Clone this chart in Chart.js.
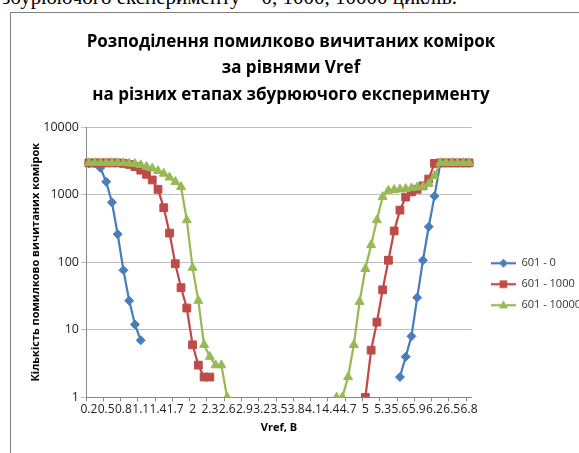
<!DOCTYPE html>
<html>
<head>
<meta charset="utf-8">
<script src="https://cdn.jsdelivr.net/npm/chart.js@4.4.0/dist/chart.umd.min.js"></script>
<style>
  html, body { margin: 0; padding: 0; background: #fff; overflow: hidden; width: 579px; height: 453px; }
  .above { position: absolute; left: 2px; top: -13px; font: 21px 'Liberation Serif', serif; line-height: 21px; white-space: nowrap; color: #000; }
  .frame { position: absolute; left: 10px; top: 12px; width: 620px; height: 470px; border-left: 1px solid #808080; border-top: 1px solid #808080; }
  .box { position: absolute; left: -9px; top: 13px; width: 600px; height: 440px; }
</style>
</head>
<body>
<div class="above">збурюючого експерименту – 0, 1000, 10000 циклів.</div>
<div class="frame"></div>
<div class="box"><canvas id="chart1"></canvas></div>
<script>
// Vref, B (categories)
const vref = [0.2, 0.3, 0.4, 0.5, 0.6, 0.7, 0.8, 0.9, 1, 1.1,
  1.2, 1.3, 1.4, 1.5, 1.6, 1.7, 1.8, 1.9, 2, 2.1,
  2.2, 2.3, 2.4, 2.5, 2.6, 2.7, 2.8, 2.9, 3, 3.1,
  3.2, 3.3, 3.4, 3.5, 3.6, 3.7, 3.8, 3.9, 4, 4.1,
  4.2, 4.3, 4.4, 4.5, 4.6, 4.7, 4.8, 4.9, 5, 5.1,
  5.2, 5.3, 5.4, 5.5, 5.6, 5.7, 5.8, 5.9, 6, 6.1,
  6.2, 6.3, 6.4, 6.5, 6.6, 6.7, 6.8];

const seriesNames = ['601 - 0', '601 - 1000', '601 - 10000'];

const cycles0 = [2900, 2900, 2500, 1550, 770, 260, 76, 27, 12, 7,
  null, null, null, null, null, null, null, null, null, null,
  null, null, null, null, null, null, null, null, null, null,
  null, null, null, null, null, null, null, null, null, null,
  null, null, null, null, null, null, null, null, null, null,
  null, null, null, null, 2, 4, 8, 30, 107, 335,
  950, 2900, 2950, 2950, 2950, 2950, 2950];

const cycles1000 = [2950, 2950, 2950, 2950, 2950, 2950, 2900, 2800, 2600, 2300,
  2000, 1650, 1200, 640, 270, 95, 42, 21, 6, 3,
  2, 2, null, null, null, null, null, null, null, null,
  null, null, null, null, null, null, null, null, null, null,
  null, null, null, null, null, null, null, null, 1, 5,
  13, 39, 107, 290, 590, 920, 1100, 1200, 1350, 1700,
  2900, 2950, 2950, 2950, 2950, 2950, 2950];

const cycles10000 = [2950, 2950, 2950, 2950, 2950, 2950, 2950, 2900, 2850, 2750,
  2600, 2450, 2250, 2050, 1800, 1550, 1300, 420, 83, 27,
  6, 4, 3, 3, 1, null, null, null, null, null,
  null, null, null, null, null, null, null, null, null, null,
  null, null, null, 1, 1, 2, 6, 26, 80, 180,
  420, 930, 1150, 1180, 1200, 1220, 1250, 1280, 1320, 1450,
  1900, 2950, 2950, 2950, 2950, 2950, 2950];

const yTicks = [1, 10, 100, 1000, 10000];

const titleLines = ['Розподілення помилково вичитаних комірок', 'за рівнями Vref', 'на різних етапах збурюючого експерименту'];
const yTitle = 'Кількість помилково вичитаних комірок';
const xTitle = 'Vref, B';

const colors = ['#4A7EBB', '#BE4B48', '#98B954'];
const styles = ['rectRot', 'rect', 'triangle'];

// legend sample: short line with the marker on it
function legendIcon(color, style) {
  const c = document.createElement('canvas');
  c.width = 34; c.height = 12;
  const g = c.getContext('2d');
  g.strokeStyle = color; g.fillStyle = color; g.lineWidth = 2.25;
  g.beginPath(); g.moveTo(9, 6); g.lineTo(34, 6); g.stroke();
  const cx = 21.5, cy = 6, r = 4.5;
  g.beginPath();
  if (style === 'rectRot') {
    g.moveTo(cx, cy - r); g.lineTo(cx + r, cy); g.lineTo(cx, cy + r); g.lineTo(cx - r, cy);
  } else if (style === 'rect') {
    g.rect(cx - 3.8, cy - 3.8, 7.6, 7.6);
  } else {
    g.moveTo(cx, cy - r - 0.5); g.lineTo(cx + r, cy + r * 0.7); g.lineTo(cx - r, cy + r * 0.7);
  }
  g.closePath(); g.fill();
  return c;
}
const icons = colors.map((c, i) => legendIcon(c, styles[i]));

Chart.defaults.font.family = "'Open Sans', sans-serif";

const data = {
  labels: vref,
  datasets: [cycles0, cycles1000, cycles10000].map((vals, i) => ({
    label: seriesNames[i],
    data: vals,
    borderColor: colors[i],
    backgroundColor: colors[i],
    borderWidth: 2.25,
    pointStyle: styles[i],
    pointRadius: [4.5, 5.5, 5.2][i],
    pointBorderWidth: 1,
    order: 2 - i, // green on top like in Excel
    tension: 0
  }))
};

const config = {
  type: 'line',
  data: data,
  options: {
    responsive: true,
    maintainAspectRatio: false,
    animation: false,
    layout: { padding: { left: 0, right: 0, top: 0, bottom: 15 } },
    plugins: {
      tooltip: { enabled: false },
      title: {
        display: true,
        text: titleLines,
        color: '#000',
        font: { size: 17, weight: 'bold', lineHeight: 1.56 },
        padding: { top: 15.5, bottom: 19 }
      },
      legend: {
        position: 'right',
        fullSize: false,
        // empty legend title just pushes the items a bit lower, as in Excel
        title: { display: true, text: '', font: { size: 10 }, padding: { top: 16, bottom: 16 } },
        labels: {
          usePointStyle: true,
          pointStyleWidth: 34,
          padding: 10,
          color: '#333',
          font: { size: 11 },
          generateLabels: chart => chart.data.datasets.map((ds, i) => ({
            text: ds.label,
            pointStyle: icons[i],
            datasetIndex: i,
            hidden: false,
            lineWidth: 0,
            fillStyle: ds.borderColor,
            strokeStyle: ds.borderColor,
            fontColor: '#333'
          }))
        }
      }
    },
    scales: {
      x: {
        offset: true,
        ticks: {
          autoSkip: false, maxRotation: 0, minRotation: 0,
          color: '#222', font: { size: 12 }, padding: 1,
          callback: (v, i) => i % 3 === 0 ? vref[i] : ''
        },
        grid: {
          offset: true, drawOnChartArea: false, tickLength: 4,
          color: c => c.index % 3 === 0 ? '#868686' : 'transparent'
        },
        border: { color: '#868686' },
        title: { display: true, text: xTitle, color: '#000', font: { size: 11, weight: 'bold' }, padding: { top: 3, bottom: 4 } }
      },
      y: {
        type: 'logarithmic',
        min: 1,
        max: 10000,
        afterBuildTicks: axis => { axis.ticks = axis.ticks.filter(t => yTicks.includes(t.value)); },
        afterFit: axis => { axis.width = 95; },
        ticks: { color: '#222', font: { size: 12.5 }, padding: 2, callback: v => String(v) },
        grid: { color: '#BFBFBF', tickLength: 5 },
        border: { color: '#868686' },
        title: { display: true, text: yTitle, color: '#000', font: { size: 11, weight: 'bold' }, padding: { top: 38, bottom: 4 } }
      }
    }
  }
};

const myChart = new Chart(document.getElementById('chart1'), config);
</script>
</body>
</html>
